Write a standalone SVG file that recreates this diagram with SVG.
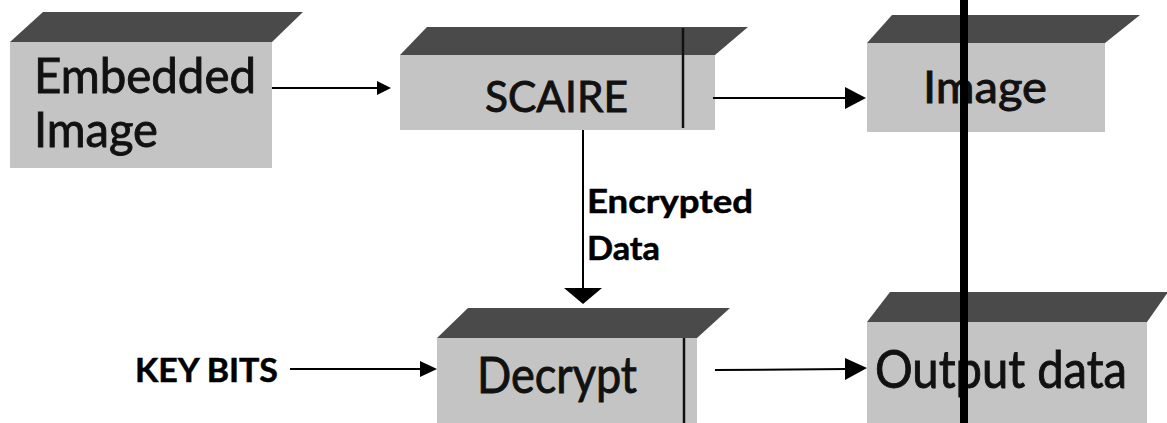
<svg xmlns="http://www.w3.org/2000/svg" width="1167" height="423" viewBox="0 0 1167 423">
  <style>
    .front { fill: #c4c4c4; }
    .top { fill: #4a4a4a; }
    .label { font-family: Lato, "Liberation Sans", sans-serif; fill: #111; stroke: #111; stroke-width: 0.9; }
    .bold { font-family: Lato, "Liberation Sans", sans-serif; font-weight: bold; fill: #000; stroke: #000; stroke-width: 0.5; }
    .line { stroke: #000; stroke-width: 2; fill: none; }
    .head { fill: #000; }
    .divider { stroke: #111; stroke-width: 2.5; }
  </style>

  <rect width="1167" height="423" fill="#fff"/>

  <!-- Embedded Image block -->
  <g id="node-embedded-image">
    <polygon class="top" points="10,42 43,12 303,12 272,42"/>
    <rect class="front" x="10" y="42" width="262" height="126"/>
    <text class="label" x="34" y="93" font-size="49" textLength="222" lengthAdjust="spacingAndGlyphs">Embedded</text>
    <text class="label" x="34" y="147" font-size="49" textLength="124" lengthAdjust="spacingAndGlyphs">Image</text>
  </g>

  <!-- SCAIRE block -->
  <g id="node-scaire">
    <polygon class="top" points="400,55 427,27 748,27 715,55"/>
    <rect class="front" x="400" y="55" width="315" height="75"/>
    <line class="divider" x1="683" y1="28" x2="683" y2="128"/>
    <text class="label" x="485" y="112" font-size="42" textLength="143" lengthAdjust="spacingAndGlyphs">SCAIRE</text>
  </g>

  <!-- Image block -->
  <g id="node-image">
    <polygon class="top" points="867,43 892,15 1140,15 1105,43"/>
    <rect class="front" x="867" y="43" width="238" height="89"/>
    <text class="label" x="923" y="103" font-size="44" textLength="124" lengthAdjust="spacingAndGlyphs">Image</text>
  </g>

  <!-- Decrypt block -->
  <g id="node-decrypt">
    <polygon class="top" points="437,338 468,308 730,308 697,338"/>
    <rect class="front" x="437" y="338" width="260" height="90"/>
    <line class="divider" x1="684" y1="338" x2="684" y2="423"/>
    <text class="label" x="477" y="393" font-size="50" textLength="160" lengthAdjust="spacingAndGlyphs">Decrypt</text>
  </g>

  <!-- Output data block -->
  <g id="node-output-data">
    <polygon class="top" points="867,322 890,292 1168,292 1147,322"/>
    <rect class="front" x="867" y="322" width="280" height="106"/>
    <text class="label" x="875" y="388" font-size="52" textLength="252" lengthAdjust="spacingAndGlyphs">Output data</text>
  </g>

  <!-- KEY BITS input label -->
  <g id="node-key-bits">
    <text class="bold" x="135" y="382" font-size="32" textLength="143" lengthAdjust="spacingAndGlyphs">KEY BITS</text>
  </g>

  <!-- Connectors -->
  <g id="connectors">
    <!-- Embedded Image to SCAIRE -->
    <line class="line" x1="272" y1="88" x2="378" y2="88"/>
    <polygon class="head" points="377,81 391,88 377,95"/>

    <!-- SCAIRE to Image -->
    <line class="line" x1="713" y1="98" x2="847" y2="98"/>
    <polygon class="head" points="845,87 866,98 845,109"/>

    <!-- SCAIRE down to Decrypt -->
    <line class="line" x1="583" y1="130" x2="583" y2="290"/>
    <polygon class="head" points="564,288 602,288 583,304"/>
    <text class="bold" x="587" y="213" font-size="32" textLength="166" lengthAdjust="spacingAndGlyphs">Encrypted</text>
    <text class="bold" x="587" y="260" font-size="32" textLength="73" lengthAdjust="spacingAndGlyphs">Data</text>

    <!-- KEY BITS to Decrypt -->
    <line class="line" x1="290" y1="369" x2="422" y2="369"/>
    <polygon class="head" points="420,361 437,369 420,377"/>

    <!-- Decrypt to Output data -->
    <line class="line" x1="715" y1="370" x2="847" y2="369"/>
    <polygon class="head" points="845,358 867,368 845,380"/>

    <!-- heavy vertical rule through the right column -->
    <line x1="964" y1="0" x2="964" y2="423" stroke="#000" stroke-width="8"/>
  </g>
</svg>
